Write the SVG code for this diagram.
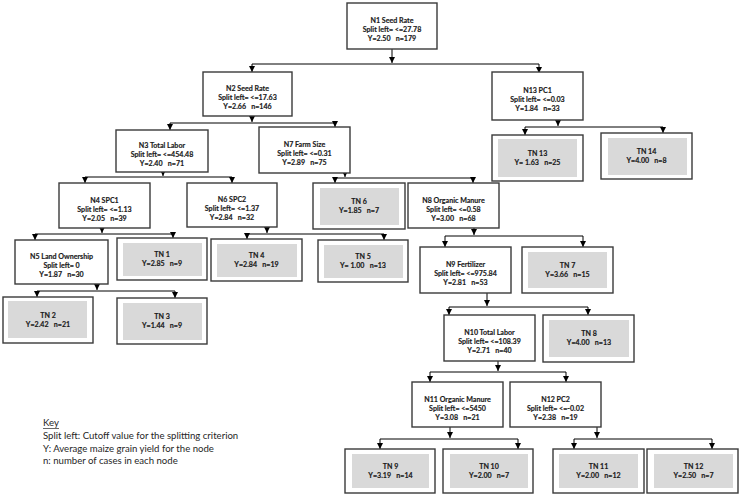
<svg xmlns="http://www.w3.org/2000/svg" width="742" height="498" viewBox="0 0 742 498">
<defs>
<marker id="ah" markerWidth="6" markerHeight="6" refX="6" refY="3" orient="auto" markerUnits="userSpaceOnUse"><path d="M0,0 L6,3 L0,6 z" fill="#000"/></marker>
<style>
.box{fill:#fff;stroke:#3a3a3a;stroke-width:1.4}
.in{fill:#d9d9d9}
.t{font-family:Lato,"Open Sans",sans-serif;font-size:7.1px;font-weight:bold;fill:#1a1a1a;stroke:#1a1a1a;stroke-width:0.15;text-anchor:middle;white-space:pre}
.k{font-family:Lato,"Open Sans",sans-serif;font-size:9.6px;fill:#262626}
.c{stroke:#000;stroke-width:1;fill:none}
.a{stroke:#000;stroke-width:1;fill:none;marker-end:url(#ah)}
</style>
</defs>
<rect width="742" height="498" fill="#fff"/>
<g id="connectors">
<path class="a" d="M392,49V63"/><path class="c" d="M252,64H539"/><path class="a" d="M252,64V72"/><path class="a" d="M539,64V73"/>
<path class="a" d="M252,116V122"/><path class="c" d="M170,123H335"/><path class="a" d="M170,123V130"/><path class="a" d="M335,123V127"/>
<path class="a" d="M558,120V126"/><path class="c" d="M525,127H663"/><path class="a" d="M525,127V135"/><path class="a" d="M663,127V133"/>
<path class="a" d="M163,172V176"/><path class="c" d="M85,177H232"/><path class="a" d="M85,177V183"/><path class="a" d="M232,177V183"/>
<path class="a" d="M345,173V177"/><path class="c" d="M335,178H473"/><path class="a" d="M335,178V183"/><path class="a" d="M473,178V183"/>
<path class="a" d="M102,228V233"/><path class="c" d="M35,234H173"/><path class="a" d="M35,234V240"/><path class="a" d="M173,234V238"/>
<path class="a" d="M267,227V233"/><path class="c" d="M247,234H384"/><path class="a" d="M247,234V239"/><path class="a" d="M384,234V240"/>
<path class="a" d="M474,228V235"/><path class="c" d="M445,236H583"/><path class="a" d="M445,236V247"/><path class="a" d="M583,236V247"/>
<path class="a" d="M97,284V290"/><path class="c" d="M37,291H175"/><path class="a" d="M37,291V297"/><path class="a" d="M175,291V298"/>
<path class="a" d="M487,293V306"/><path class="c" d="M449,307H588"/><path class="a" d="M449,307V315"/><path class="a" d="M588,307V315"/>
<path class="a" d="M498,361V371"/><path class="c" d="M430,372H566"/><path class="a" d="M430,372V382"/><path class="a" d="M566,372V382"/>
<path class="a" d="M450,427V438"/><path class="c" d="M380,439H518"/><path class="a" d="M380,439V449"/><path class="a" d="M518,439V449"/>
<path class="a" d="M597,427V438"/><path class="c" d="M574,439H712"/><path class="a" d="M574,439V449"/><path class="a" d="M712,439V449"/>
</g>
<g id="N1"><rect class="box" x="347" y="3" width="90" height="46"/><text class="t" x="392" y="23">N1 Seed Rate</text><text class="t" x="392" y="32">Split left= &lt;=27.78</text><text class="t" x="392" y="41">Y=2.50   n=179</text></g>
<g id="N2"><rect class="box" x="203" y="72" width="89" height="44"/><text class="t" x="247.5" y="91">N2 Seed Rate</text><text class="t" x="247.5" y="100">Split left= &lt;=17.63</text><text class="t" x="247.5" y="109">Y=2.66   n=146</text></g>
<g id="N13"><rect class="box" x="492" y="72" width="91" height="48"/><text class="t" x="537.5" y="93">N13 PC1</text><text class="t" x="537.5" y="102">Split left= &lt;=0.03</text><text class="t" x="537.5" y="111">Y=1.84   n=33</text></g>
<g id="N3"><rect class="box" x="116" y="130" width="92" height="42"/><text class="t" x="162" y="148">N3 Total Labor</text><text class="t" x="162" y="157">Split left= &lt;=454.48</text><text class="t" x="162" y="166">Y=2.40   n=71</text></g>
<g id="N7"><rect class="box" x="259" y="127" width="91" height="46"/><text class="t" x="304.5" y="147">N7 Farm Size</text><text class="t" x="304.5" y="156">Split left= &lt;=0.31</text><text class="t" x="304.5" y="165">Y=2.89   n=75</text></g>
<g id="TN13"><rect class="box" x="492" y="135" width="91" height="46"/><rect class="in" x="498" y="139" width="79" height="38"/><text class="t" x="537.5" y="155.5">TN 13</text><text class="t" x="537.5" y="164.5">Y= 1.63   n=25</text></g>
<g id="TN14"><rect class="box" x="601" y="133" width="91" height="46"/><rect class="in" x="608" y="138" width="79" height="37"/><text class="t" x="646.5" y="153.5">TN 14</text><text class="t" x="646.5" y="162.5">Y=4.00   n=8</text></g>
<g id="N4"><rect class="box" x="59" y="183" width="91" height="45"/><text class="t" x="104.5" y="202.5">N4 SPC1</text><text class="t" x="104.5" y="211.5">Split left= &lt;=1.13</text><text class="t" x="104.5" y="220.5">Y=2.05   n=39</text></g>
<g id="N6"><rect class="box" x="187" y="183" width="90" height="44"/><text class="t" x="232" y="202">N6 SPC2</text><text class="t" x="232" y="211">Split left= &lt;=1.37</text><text class="t" x="232" y="220">Y=2.84   n=32</text></g>
<g id="TN6"><rect class="box" x="313" y="183" width="92" height="46"/><rect class="in" x="320" y="188" width="79" height="37"/><text class="t" x="359" y="203.5">TN 6</text><text class="t" x="359" y="212.5">Y=1.85   n=7</text></g>
<g id="N8"><rect class="box" x="408" y="183" width="91" height="45"/><text class="t" x="453.5" y="202.5">N8 Organic Manure</text><text class="t" x="453.5" y="211.5">Split left= &lt;=0.58</text><text class="t" x="453.5" y="220.5">Y=3.00   n=68</text></g>
<g id="N5"><rect class="box" x="15" y="240" width="93" height="44"/><text class="t" x="61.5" y="259">N5 Land Ownership</text><text class="t" x="61.5" y="268">Split left= 0</text><text class="t" x="61.5" y="277">Y=1.87   n=30</text></g>
<g id="TN1"><rect class="box" x="117" y="238" width="90" height="42"/><rect class="in" x="123" y="243" width="79" height="33"/><text class="t" x="162" y="256.5">TN 1</text><text class="t" x="162" y="265.5">Y=2.85   n=9</text></g>
<g id="TN4"><rect class="box" x="211" y="239" width="91" height="42"/><rect class="in" x="217" y="244" width="80" height="33"/><text class="t" x="256.5" y="257.5">TN 4</text><text class="t" x="256.5" y="266.5">Y=2.84   n=19</text></g>
<g id="TN5"><rect class="box" x="318" y="240" width="90" height="42"/><rect class="in" x="324" y="245" width="79" height="33"/><text class="t" x="363" y="258.5">TN 5</text><text class="t" x="363" y="267.5">Y= 1.00   n=13</text></g>
<g id="N9"><rect class="box" x="420" y="247" width="91" height="46"/><text class="t" x="465.5" y="267">N9 Fertilizer</text><text class="t" x="465.5" y="276">Split left= &lt;=975.84</text><text class="t" x="465.5" y="285">Y=2.81   n=53</text></g>
<g id="TN7"><rect class="box" x="522" y="247" width="91" height="46"/><rect class="in" x="528" y="252" width="79" height="36"/><text class="t" x="567.5" y="267.5">TN 7</text><text class="t" x="567.5" y="276.5">Y=3.66   n=15</text></g>
<g id="TN2"><rect class="box" x="3" y="297" width="90" height="46"/><rect class="in" x="8" y="301" width="79" height="37"/><text class="t" x="48" y="317.5">TN 2</text><text class="t" x="48" y="326.5">Y=2.42   n=21</text></g>
<g id="TN3"><rect class="box" x="117" y="298" width="90" height="46"/><rect class="in" x="123" y="303" width="79" height="37"/><text class="t" x="162" y="318.5">TN 3</text><text class="t" x="162" y="327.5">Y=1.44   n=9</text></g>
<g id="N10"><rect class="box" x="444" y="315" width="91" height="46"/><text class="t" x="489.5" y="335">N10 Total Labor</text><text class="t" x="489.5" y="344">Split left= &lt;=108.39</text><text class="t" x="489.5" y="353">Y=2.71   n=40</text></g>
<g id="TN8"><rect class="box" x="543" y="315" width="91" height="47"/><rect class="in" x="549" y="320" width="80" height="37"/><text class="t" x="589" y="336">TN 8</text><text class="t" x="589" y="345">Y=4.00   n=13</text></g>
<g id="N11"><rect class="box" x="412" y="382" width="91" height="45"/><text class="t" x="457.5" y="401.5">N11 Organic Manure</text><text class="t" x="457.5" y="410.5">Split left= &lt;=5450</text><text class="t" x="457.5" y="419.5">Y=3.08   n=21</text></g>
<g id="N12"><rect class="box" x="510" y="382" width="91" height="45"/><text class="t" x="555.5" y="401.5">N12 PC2</text><text class="t" x="555.5" y="410.5">Split left= &lt;=-0.02</text><text class="t" x="555.5" y="419.5">Y=2.38   n=19</text></g>
<g id="TN9"><rect class="box" x="345" y="449" width="90" height="44"/><rect class="in" x="352" y="454" width="77" height="34"/><text class="t" x="390.5" y="468.5">TN 9</text><text class="t" x="390.5" y="477.5">Y=3.19   n=14</text></g>
<g id="TN10"><rect class="box" x="443" y="449" width="90" height="44"/><rect class="in" x="450" y="454" width="78" height="34"/><text class="t" x="489" y="468.5">TN 10</text><text class="t" x="489" y="477.5">Y=2.00   n=7</text></g>
<g id="TN11"><rect class="box" x="553" y="449" width="91" height="44"/><rect class="in" x="559" y="454" width="79" height="34"/><text class="t" x="598.5" y="468.5">TN 11</text><text class="t" x="598.5" y="477.5">Y=2.00   n=12</text></g>
<g id="TN12"><rect class="box" x="647" y="449" width="91" height="44"/><rect class="in" x="654" y="454" width="79" height="34"/><text class="t" x="693.5" y="468.5">TN 12</text><text class="t" x="693.5" y="477.5">Y=2.50   n=7</text></g>
<g id="key">
<text class="k" x="43" y="426">Key</text><path d="M43,428.5H59" stroke="#262626" stroke-width="0.7"/>
<text class="k" x="43" y="439">Split left: Cutoff value for the splitting criterion</text>
<text class="k" x="43" y="451.5">Y: Average maize grain yield for the node</text>
<text class="k" x="43" y="464">n: number of cases in each node</text>
</g>
</svg>
